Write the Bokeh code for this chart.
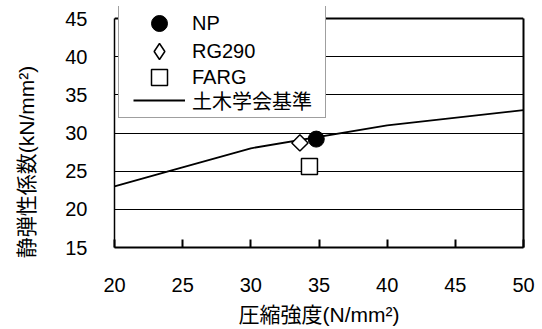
import math
from bokeh.plotting import figure
from bokeh.models import Range1d, FixedTicker, Legend, LegendItem, LinearAxis, Span
from bokeh.embed import file_html
from bokeh.resources import INLINE

# data
np_x = [34.8]
np_y = [29.2]
rg_x = [33.6]
rg_y = [28.7]
farg_x = [34.3]
farg_y = [25.6]
jsce_x = [20, 24, 30, 40, 50]
jsce_y = [23, 25, 28, 31, 33]
x_ticks = [20, 25, 30, 35, 40, 45, 50]
y_ticks = [15, 20, 25, 30, 35, 40, 45]
labels = ["NP", "RG290", "FARG", "土木学会基準"]
x_title = "圧縮強度(N/mm²)"
y_title = "静弾性係数(kN/mm²)"

FONT = "'Liberation Sans', Arial, 'Noto Sans CJK JP'"

# the frame reaches 12 px above the 45 line so the legend box can sit there
Y_MIN, Y_MAX = 15, 45
Y_TOP = Y_MAX + 12 * (Y_MAX - Y_MIN) / 229

p = figure(frame_width=409, frame_height=241,
           min_border_left=114, min_border_top=6, min_border_right=18, min_border_bottom=72,
           x_range=Range1d(20, 50), y_range=Range1d(Y_MIN, Y_TOP),
           output_backend="svg", toolbar_location=None,
           background_fill_color="white", border_fill_color="white")
p.outline_line_color = None

p.xgrid.grid_line_color = None
p.ygrid.grid_line_color = "black"
p.ygrid.grid_line_width = 1
p.ygrid.ticker = FixedTicker(ticks=y_ticks)

p.xaxis.ticker = FixedTicker(ticks=x_ticks)
p.yaxis.ticker = FixedTicker(ticks=y_ticks)
p.yaxis.bounds = (Y_MIN, Y_MAX)
p.xaxis.minor_tick_line_color = None
p.yaxis.minor_tick_line_color = None
p.xaxis.major_tick_in = 8
p.xaxis.major_tick_out = 0
p.xaxis.major_tick_line_width = 2
p.yaxis.major_tick_in = 0
p.yaxis.major_tick_out = 0
p.xaxis.axis_line_width = 2
p.yaxis.axis_line_width = 1.5
for ax in (p.xaxis, p.yaxis):
    ax.axis_line_color = "black"
    ax.major_tick_line_color = "black"
    ax.major_label_text_font = FONT
    ax.major_label_text_font_size = "20px"
    ax.major_label_text_color = "black"
    ax.axis_label_text_font = FONT
    ax.axis_label_text_font_size = "21px"
    ax.axis_label_text_font_style = "normal"
    ax.axis_label_text_color = "black"
p.xaxis.major_label_standoff = 30
p.yaxis.major_label_standoff = 27
p.xaxis.axis_label = x_title
# trailing spaces push the rotated title a little lower, as in the reference
p.yaxis.axis_label = y_title + " " * 12
p.xaxis.axis_label_standoff = 8
p.yaxis.axis_label_standoff = 24

# right border of the plot area
right_ax = LinearAxis(bounds=(Y_MIN, Y_MAX), ticker=FixedTicker(ticks=[]),
                      axis_line_color="black", axis_line_width=2,
                      major_tick_line_color=None, minor_tick_line_color=None,
                      major_label_text_font_size="0px")
p.add_layout(right_ax, "right")

# top border of the plot area
p.add_layout(Span(location=Y_MAX, dimension="width", line_color="black", line_width=2))

r_line = p.line(jsce_x, jsce_y, line_color="black", line_width=1.8)
r_np = p.scatter(np_x, np_y, marker="circle", size=16, fill_color="black", line_color="black")
r_rg = p.scatter(rg_x, rg_y, marker="square", angle=math.pi / 4, size=11.5,
                 fill_color="white", line_color="black", line_width=1.5)
r_fa = p.scatter(farg_x, farg_y, marker="square", size=16,
                 fill_color="white", line_color="black", line_width=1.5)

# hidden renderers used only for legend drawing
r_rg_leg = p.scatter(rg_x, rg_y, marker="diamond", visible=False,
                     fill_color="white", line_color="black", line_width=1.5)
r_box = p.line(jsce_x, jsce_y, line_alpha=0, visible=False)


def style(lg, glyph_w, glyph_h, standoff, label_w):
    lg.label_text_font = FONT
    lg.label_text_font_size = "20px"
    lg.label_text_color = "black"
    lg.glyph_width = glyph_w
    lg.glyph_height = glyph_h
    lg.label_height = 20
    lg.label_width = label_w
    lg.label_standoff = standoff
    lg.spacing = 0
    lg.padding = 0
    lg.margin = 0


# legend frame
frame_lg = Legend(items=[LegendItem(label=" ", renderers=[r_box])], location=(4, 129))
style(frame_lg, 206, 111, 0, 0)
frame_lg.border_line_color = "#404040"
frame_lg.border_line_width = 1
frame_lg.background_fill_color = "white"
frame_lg.background_fill_alpha = 1
p.add_layout(frame_lg, "center")

# legend entries
entries = [(r_np, 204), (r_rg_leg, 176), (r_fa, 150), (r_line, 127)]
for (rend, ypos), lab in zip(entries, labels):
    lg = Legend(items=[LegendItem(label=lab, renderers=[rend])], location=(19, ypos))
    style(lg, 52, 40, 7, 20)
    lg.border_line_alpha = 0
    lg.background_fill_alpha = 0
    p.add_layout(lg, "center")

open("out.html", "w").write(file_html(p, INLINE))
